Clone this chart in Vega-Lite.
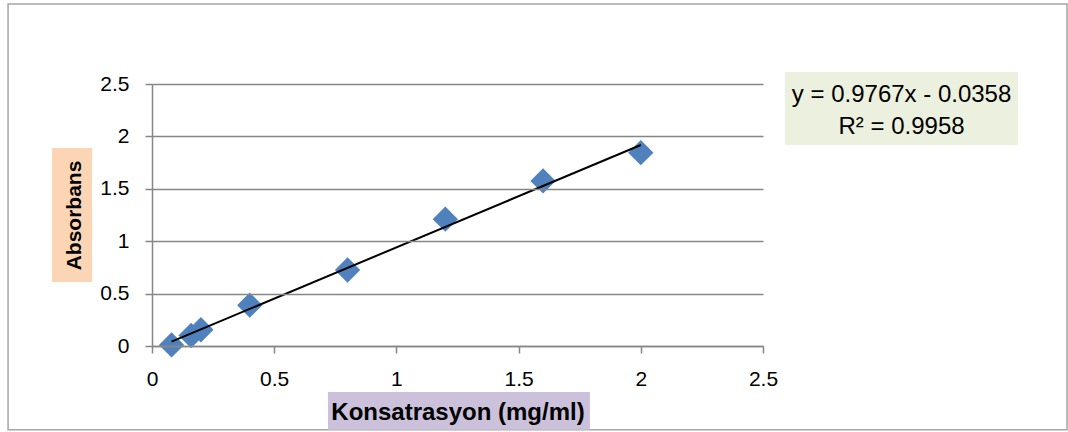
{
  "$schema": "https://vega.github.io/schema/vega-lite/v6.json",
  "width": 611,
  "height": 262,
  "autosize": {"type": "none"},
  "padding": {"left": 152, "top": 84, "right": 305, "bottom": 86},
  "background": "white",
  "config": {"view": {"stroke": null}, "font": "Liberation Sans"},
  "datasets": {
    "points": [
      {"konsantrasyon": 0.08, "absorbans": 0.01},
      {"konsantrasyon": 0.16, "absorbans": 0.10},
      {"konsantrasyon": 0.2, "absorbans": 0.155},
      {"konsantrasyon": 0.4, "absorbans": 0.39},
      {"konsantrasyon": 0.8, "absorbans": 0.725},
      {"konsantrasyon": 1.2, "absorbans": 1.21},
      {"konsantrasyon": 1.6, "absorbans": 1.575},
      {"konsantrasyon": 2.0, "absorbans": 1.845}
    ],
    "trend": [
      {"konsantrasyon": 0.08, "absorbans": 0.042},
      {"konsantrasyon": 2.0, "absorbans": 1.918}
    ],
    "one": [{}]
  },
  "layer": [
    {
      "data": {"name": "one"},
      "mark": {"type": "rect", "fill": null, "stroke": "#a6a6a6", "strokeWidth": 1.5, "clip": false},
      "encoding": {
        "x": {"datum": -0.589, "type": "quantitative", "scale": {"domain": [0, 2.5], "nice": false}},
        "x2": {"datum": 3.744},
        "y": {"datum": 3.263, "type": "quantitative", "scale": {"domain": [0, 2.5], "nice": false}},
        "y2": {"datum": -0.8}
      }
    },
    {
      "data": {"name": "one"},
      "mark": {"type": "rect", "fill": "#ccc1da", "clip": false},
      "encoding": {
        "x": {"datum": 0.72, "type": "quantitative", "scale": {"domain": [0, 2.5], "nice": false}},
        "x2": {"datum": 1.792},
        "y": {"datum": -0.439, "type": "quantitative", "scale": {"domain": [0, 2.5], "nice": false}},
        "y2": {"datum": -0.8}
      }
    },
    {
      "data": {"name": "one"},
      "mark": {"type": "rect", "fill": "#fcd5b5", "clip": false},
      "encoding": {
        "x": {"datum": -0.409, "type": "quantitative", "scale": {"domain": [0, 2.5], "nice": false}},
        "x2": {"datum": -0.245},
        "y": {"datum": 1.889, "type": "quantitative", "scale": {"domain": [0, 2.5], "nice": false}},
        "y2": {"datum": 0.611}
      }
    },
    {
      "data": {"name": "one"},
      "mark": {"type": "rect", "fill": "#ebf1de", "clip": false},
      "encoding": {
        "x": {"datum": 2.59, "type": "quantitative", "scale": {"domain": [0, 2.5], "nice": false}},
        "x2": {"datum": 3.543},
        "y": {"datum": 2.614, "type": "quantitative", "scale": {"domain": [0, 2.5], "nice": false}},
        "y2": {"datum": 1.918}
      }
    },
    {
      "data": {"name": "points"},
      "mark": {"type": "point", "shape": "diamond", "filled": true, "color": "#4f81bd", "size": 640, "opacity": 1},
      "encoding": {
        "x": {
          "field": "konsantrasyon", "type": "quantitative",
          "scale": {"domain": [0, 2.5], "nice": false},
          "axis": {
            "title": "Konsatrasyon (mg/ml)", "values": [0, 0.5, 1, 1.5, 2, 2.5], "format": "~g",
            "grid": false, "zindex": 1,
            "domainColor": "#868686", "domainWidth": 1.5,
            "tickColor": "#868686", "tickWidth": 1.5, "tickSize": 7,
            "labelFontSize": 21, "labelColor": "#000000", "labelPadding": 15, "labelFlush": false,
            "titleFontSize": 24, "titleFontWeight": "bold", "titleColor": "#000000", "titlePadding": 11
          }
        },
        "y": {
          "field": "absorbans", "type": "quantitative",
          "scale": {"domain": [0, 2.5], "nice": false},
          "axis": {
            "title": "Absorbans", "values": [0, 0.5, 1, 1.5, 2, 2.5], "format": "~g",
            "grid": true, "gridColor": "#868686", "gridWidth": 1.6, "zindex": 1,
            "domainColor": "#868686", "domainWidth": 1.5,
            "tickColor": "#868686", "tickWidth": 1.5, "tickSize": 7,
            "labelFontSize": 21, "labelColor": "#000000", "labelPadding": 16, "labelFlush": false,
            "titleFontSize": 21, "titleFontWeight": "bold", "titleColor": "#000000", "titlePadding": 15
          }
        }
      }
    },
    {
      "data": {"name": "trend"},
      "mark": {"type": "line", "color": "#000000", "strokeWidth": 2},
      "encoding": {
        "x": {"field": "konsantrasyon", "type": "quantitative", "scale": {"domain": [0, 2.5], "nice": false}},
        "y": {"field": "absorbans", "type": "quantitative", "scale": {"domain": [0, 2.5], "nice": false}}
      }
    },
    {
      "data": {"name": "one"},
      "mark": {"type": "text", "text": ["y = 0.9767x - 0.0358", "R² = 0.9958"], "fontSize": 24, "lineHeight": 32, "align": "center", "baseline": "middle", "color": "#000000", "clip": false},
      "encoding": {
        "x": {"datum": 3.067, "type": "quantitative", "scale": {"domain": [0, 2.5], "nice": false}},
        "y": {"datum": 2.395, "type": "quantitative", "scale": {"domain": [0, 2.5], "nice": false}}
      }
    }
  ]
}
